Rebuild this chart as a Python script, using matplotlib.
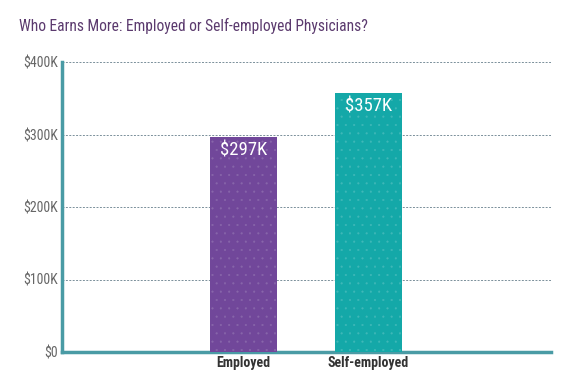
import matplotlib
matplotlib.use('Agg')
import matplotlib.pyplot as plt
from matplotlib.ticker import FuncFormatter

plt.rcParams['font.family'] = ['Roboto Condensed', 'DejaVu Sans']
plt.rcParams['hatch.linewidth'] = 0.3

categories = ['Employed', 'Self-employed']
earnings = [297, 357]          # $K
bar_labels = ['$297K', '$357K']
bar_colors = ['#71479a', '#14a8a8']
dot_colors = ['#8866aa', '#40b8b8']
yticks = [0, 100, 200, 300, 400]

fig = plt.figure(figsize=(5.81, 3.89), dpi=100)
ax = fig.add_axes([62/581, 37/389, 489/581, 290/389])

x = list(range(len(categories)))
bars = ax.bar(x, earnings, width=0.536, color=bar_colors, zorder=3)
for b, dc in zip(bars, dot_colors):
    b.set_hatch('..')
    b.set_edgecolor(dc)
    b.set_linewidth(0)
for b, lab in zip(bars, bar_labels):
    ax.text(b.get_x() + b.get_width()/2, b.get_height() - 6, lab, ha='center', va='top',
            color='white', fontsize=13.5, zorder=4)

ax.set_xlim(-1.452, 2.46)
ax.set_ylim(0, 400)
ax.set_yticks(yticks)
ax.yaxis.set_major_formatter(FuncFormatter(lambda v, p: '$0' if v == 0 else f'${int(v)}K'))
ax.set_xticks(x)
ax.set_xticklabels(categories, fontsize=10, fontweight='bold', color='#333333')
ax.tick_params(axis='y', length=0, labelsize=10, labelcolor='#666666', pad=3)
ax.tick_params(axis='x', length=0, pad=3)
ax.grid(axis='y', ls=(0, (2, 1.5)), color='#7a8f9a', lw=0.7, zorder=0)
for s in ['top', 'right']:
    ax.spines[s].set_visible(False)
for s in ['left', 'bottom']:
    ax.spines[s].set_color('#4a9ba5')
    ax.spines[s].set_linewidth(2.5)

fig.text(19/581, 1 - 26/389, 'Who Earns More: Employed or Self-employed Physicians?',
         fontsize=11.2, color='#5b3a6e', va='center', ha='left')

fig.savefig('out.png', dpi=100)
